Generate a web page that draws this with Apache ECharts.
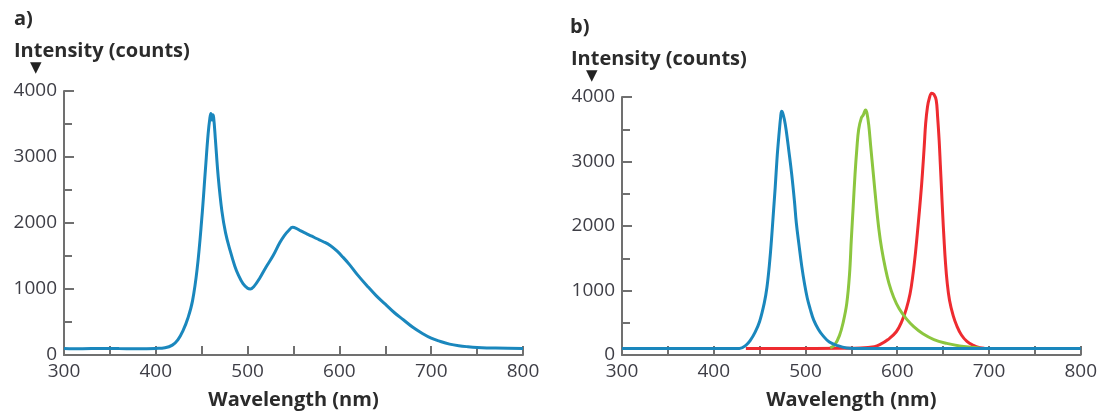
<!DOCTYPE html>
<html>
<head>
<meta charset="utf-8">
<script src="https://cdn.jsdelivr.net/npm/echarts@6/dist/echarts.min.js"></script>
<style>
  html, body { margin: 0; padding: 0; background: #fff; }
  #chart { width: 1100px; height: 415px; }
</style>
</head>
<body>
<div id="chart"></div>
<script>
// a) white LED spectrum
const leftWavelength = [300, 320, 340, 360, 380, 400, 410, 418, 424, 430, 435, 440, 445, 450, 454, 457, 459, 460, 461, 462, 463, 465, 468, 472, 476, 481, 486, 490, 495, 500, 503, 507, 513, 520, 528, 535, 540, 545, 549, 553, 558, 564, 570, 575, 582, 590, 597, 604, 611, 620, 630, 640, 650, 660, 670, 680, 690, 700, 710, 720, 730, 740, 750, 770, 800];
const leftCounts = [100, 95, 100, 98, 95, 100, 110, 150, 230, 380, 560, 820, 1300, 2050, 2800, 3350, 3600, 3660, 3560, 3640, 3600, 3250, 2700, 2180, 1850, 1580, 1350, 1210, 1080, 1010, 1000, 1040, 1160, 1330, 1510, 1700, 1810, 1890, 1935, 1920, 1880, 1840, 1800, 1765, 1720, 1660, 1580, 1480, 1370, 1210, 1050, 900, 770, 640, 530, 420, 330, 255, 205, 165, 140, 125, 115, 105, 100];

// b) blue, green, red LEDs
const blueWavelength = [300, 350, 400, 428, 435, 440, 445, 450, 455, 458, 461, 463, 465, 467, 469, 471, 473, 474, 475, 477, 479, 482, 485, 488, 490, 493, 496, 499, 502, 505, 509, 514, 519, 526, 534, 545, 560, 650, 800];
const blueCounts = [100, 100, 100, 100, 150, 230, 350, 520, 800, 1050, 1450, 1800, 2200, 2600, 3050, 3400, 3700, 3780, 3760, 3650, 3480, 3150, 2800, 2380, 2050, 1700, 1370, 1100, 880, 720, 540, 400, 300, 200, 150, 110, 100, 100, 100];

const greenWavelength = [527, 532, 537, 541, 545, 548, 550, 552, 554, 556, 558, 561, 563, 565.5, 567, 569, 571, 574, 577, 580, 583, 587, 591, 596, 602, 610, 618, 628, 640, 654, 668, 680, 690];
const greenCounts = [110, 160, 300, 500, 800, 1250, 1800, 2300, 2800, 3200, 3500, 3680, 3720, 3800, 3750, 3560, 3250, 2800, 2350, 1950, 1650, 1350, 1110, 900, 720, 560, 440, 330, 240, 180, 140, 120, 110];

const redWavelength = [435, 480, 540, 560, 575, 581, 590, 599, 605, 610, 614, 617, 620, 623, 625.5, 627.5, 629.5, 631, 633, 635, 637.5, 640, 642.5, 644, 645.7, 647, 648.3, 649.6, 651, 652.5, 654.4, 657, 661, 665, 670, 676, 683, 690, 695];
const redCounts = [100, 100, 105, 110, 130, 160, 240, 360, 520, 720, 950, 1230, 1600, 2050, 2450, 2820, 3250, 3590, 3850, 3980, 4060, 4040, 3950, 3700, 3330, 2950, 2560, 2170, 1800, 1450, 1130, 850, 610, 450, 310, 210, 150, 115, 105];

const yTicks = [0, 1000, 2000, 3000, 4000];
const xTicks = [300, 400, 500, 600, 700, 800];

function pairs(xs, ys) {
  return xs.map((x, i) => [x, ys[i]]);
}

const axisGray = "#707070";
const labelColor = "#3e3e46";
const font = "'Open Sans', 'DejaVu Sans', sans-serif";

function makeXAxis(gridIndex) {
  return {
    type: "value",
    gridIndex: gridIndex,
    min: xTicks[0],
    max: xTicks[xTicks.length - 1],
    interval: 100,
    name: "Wavelength (nm)",
    nameLocation: "middle",
    nameGap: 35,
    nameTextStyle: { fontFamily: font, fontWeight: "bold", fontSize: 20, color: "#2b2b2b" },
    axisLine: { show: true, lineStyle: { color: axisGray, width: 2 } },
    axisTick: { show: true, inside: true, length: 9, lineStyle: { color: axisGray, width: 2 } },
    minorTick: { show: true, splitNumber: 2, length: 9, lineStyle: { color: axisGray, width: 2 } },
    axisLabel: { fontFamily: font, fontSize: 19, color: labelColor, margin: 7, formatter: (v) => String(v) },
    splitLine: { show: false },
  };
}

function makeYAxis(gridIndex) {
  return {
    type: "value",
    gridIndex: gridIndex,
    min: yTicks[0],
    max: yTicks[yTicks.length - 1],
    interval: 1000,
    axisLine: { show: true, lineStyle: { color: axisGray, width: 2 } },
    axisTick: { show: true, inside: true, length: 10, lineStyle: { color: axisGray, width: 2 } },
    minorTick: { show: true, splitNumber: 2, length: 8, lineStyle: { color: axisGray, width: 2 } },
    axisLabel: { fontFamily: font, fontSize: 19, color: labelColor, margin: 7, formatter: (v) => String(v) },
    splitLine: { show: false },
  };
}

function makeLine(name, data, color, axisIndex) {
  return {
    name: name,
    type: "line",
    xAxisIndex: axisIndex,
    yAxisIndex: axisIndex,
    data: data,
    showSymbol: false,
    smooth: 0.4,
    clip: false,
    lineStyle: { color: color, width: 3 },
  };
}

const titleStyle = { fontFamily: font, fontWeight: "bold", fontSize: 20, color: "#2b2b2b" };
const arrowStyle = { fontFamily: "'DejaVu Sans', sans-serif", fontSize: 15, color: "#222" };

const chart = echarts.init(document.getElementById("chart"));
chart.setOption({
  backgroundColor: "#fff",
  animation: false,
  title: [
    { text: "a)", left: 14, top: 9, padding: 0, textStyle: titleStyle },
    { text: "Intensity (counts)", left: 14, top: 41, padding: 0, textStyle: titleStyle },
    { text: "▼", left: 30, top: 61, padding: 0, textStyle: arrowStyle },
    { text: "b)", left: 570, top: 17, padding: 0, textStyle: titleStyle },
    { text: "Intensity (counts)", left: 571, top: 49, padding: 0, textStyle: titleStyle },
    { text: "▼", left: 586, top: 69, padding: 0, textStyle: arrowStyle },
  ],
  grid: [
    { left: 64, top: 91, width: 459, height: 266 },
    { left: 622, top: 97, width: 459, height: 260 },
  ],
  xAxis: [makeXAxis(0), makeXAxis(1)],
  yAxis: [makeYAxis(0), makeYAxis(1)],
  series: [
    makeLine("white", pairs(leftWavelength, leftCounts), "#1a87bd", 0),
    makeLine("red", pairs(redWavelength, redCounts), "#ee2b30", 1),
    makeLine("green", pairs(greenWavelength, greenCounts), "#8cc63f", 1),
    makeLine("blue", pairs(blueWavelength, blueCounts), "#1a87bd", 1),
  ],
});
</script>
</body>
</html>
